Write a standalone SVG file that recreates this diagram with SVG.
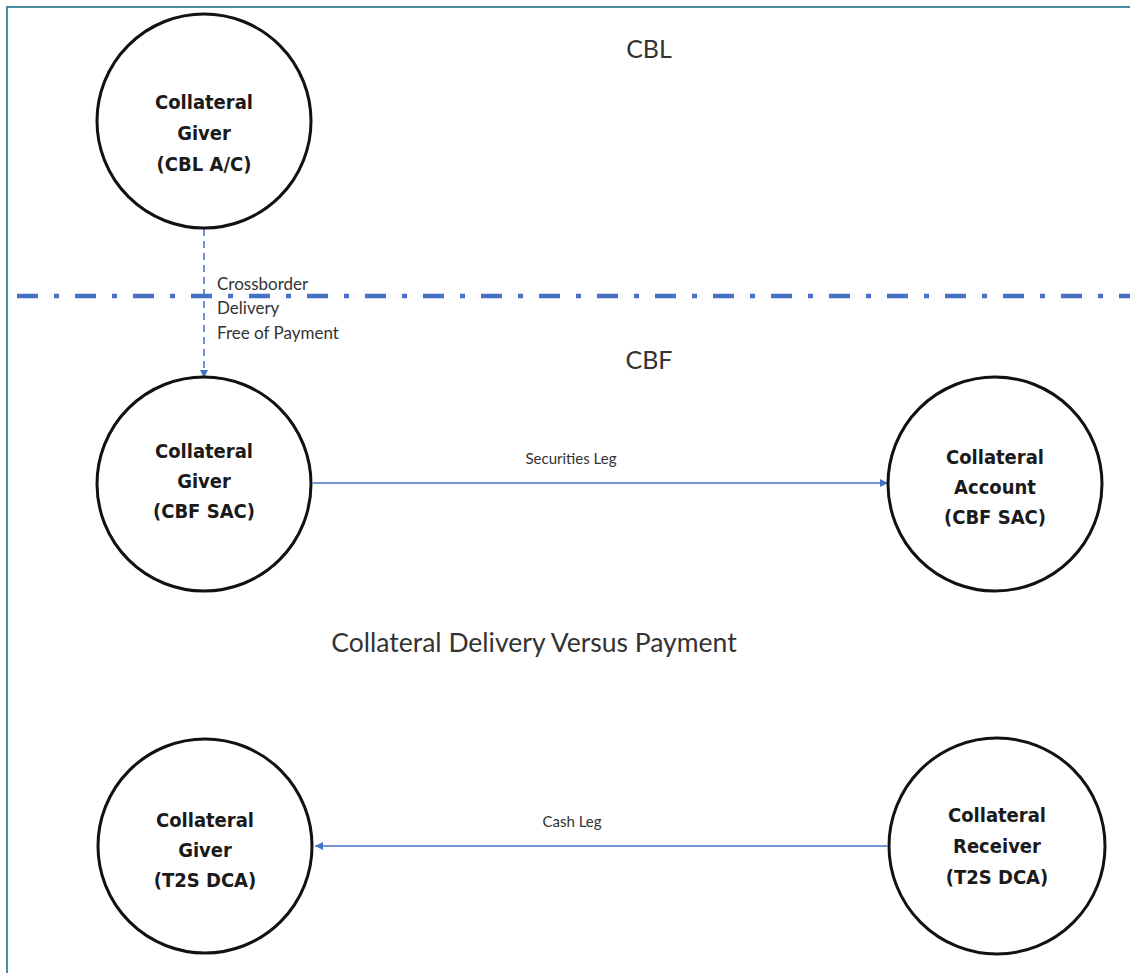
<svg xmlns="http://www.w3.org/2000/svg" width="1130" height="973" viewBox="0 0 1130 973">
<defs>
<style>
.node{fill:#fff;stroke:#111;stroke-width:3}
.nt{font-family:"DejaVu Sans Condensed","DejaVu Sans",sans-serif;font-weight:bold;font-size:20px;fill:#1a1a1a;text-anchor:middle}
.lbl{font-family:Lato,"Open Sans",sans-serif;fill:#333}
.conn{stroke:#4472c4;stroke-width:1.5;fill:none}
</style>
<marker id="ah" viewBox="0 0 10 10" refX="10" refY="5" markerWidth="8" markerHeight="8" orient="auto" markerUnits="userSpaceOnUse">
<path d="M0,0 L10,5 L0,10 z" fill="#4472c4"/>
</marker>
</defs>
<rect width="1130" height="973" fill="#fff"/>
<path d="M7,973 V7 H1130" fill="none" stroke="#4a8ca0" stroke-width="2"/>
<line x1="17" y1="296" x2="1130" y2="296" stroke="#4472c4" stroke-width="4.5" stroke-dasharray="21 16 5 16"/>
<text x="649" y="58" class="lbl" font-size="25" text-anchor="middle" fill="#222">CBL</text>
<text x="649" y="369" class="lbl" font-size="25" text-anchor="middle" fill="#222">CBF</text>
<text x="534" y="652" class="lbl" font-size="26.5" text-anchor="middle" fill="#222">Collateral Delivery Versus Payment</text>
<g id="connectors">
<line class="conn" x1="204" y1="229" x2="204" y2="378" stroke-dasharray="7 5" marker-end="url(#ah)"/>
<text class="lbl" font-size="17" x="217" y="290">Crossborder</text>
<text class="lbl" font-size="17" x="217" y="314">Delivery</text>
<text class="lbl" font-size="17" x="217" y="339">Free of Payment</text>
<line class="conn" x1="313" y1="483" x2="888" y2="483" marker-end="url(#ah)"/>
<text class="lbl" font-size="15" x="571" y="464" text-anchor="middle">Securities Leg</text>
<line class="conn" x1="887" y1="846" x2="315" y2="846" marker-end="url(#ah)"/>
<text class="lbl" font-size="15" x="572" y="827" text-anchor="middle">Cash Leg</text>
</g>
<g id="n1"><circle class="node" cx="204" cy="121" r="107"/>
<text class="nt" x="204" y="109">Collateral</text><text class="nt" x="204" y="140">Giver</text><text class="nt" x="204" y="171">(CBL A/C)</text></g>
<g id="n2"><circle class="node" cx="204" cy="484" r="107"/>
<text class="nt" x="204" y="458">Collateral</text><text class="nt" x="204" y="488">Giver</text><text class="nt" x="204" y="518">(CBF SAC)</text></g>
<g id="n3"><circle class="node" cx="995" cy="484" r="107"/>
<text class="nt" x="995" y="464">Collateral</text><text class="nt" x="995" y="494">Account</text><text class="nt" x="995" y="524">(CBF SAC)</text></g>
<g id="n4"><circle class="node" cx="205" cy="846" r="107"/>
<text class="nt" x="205" y="827">Collateral</text><text class="nt" x="205" y="857">Giver</text><text class="nt" x="205" y="887">(T2S DCA)</text></g>
<g id="n5"><circle class="node" cx="997" cy="846" r="108"/>
<text class="nt" x="997" y="822">Collateral</text><text class="nt" x="997" y="853">Receiver</text><text class="nt" x="997" y="884">(T2S DCA)</text></g>
</svg>
